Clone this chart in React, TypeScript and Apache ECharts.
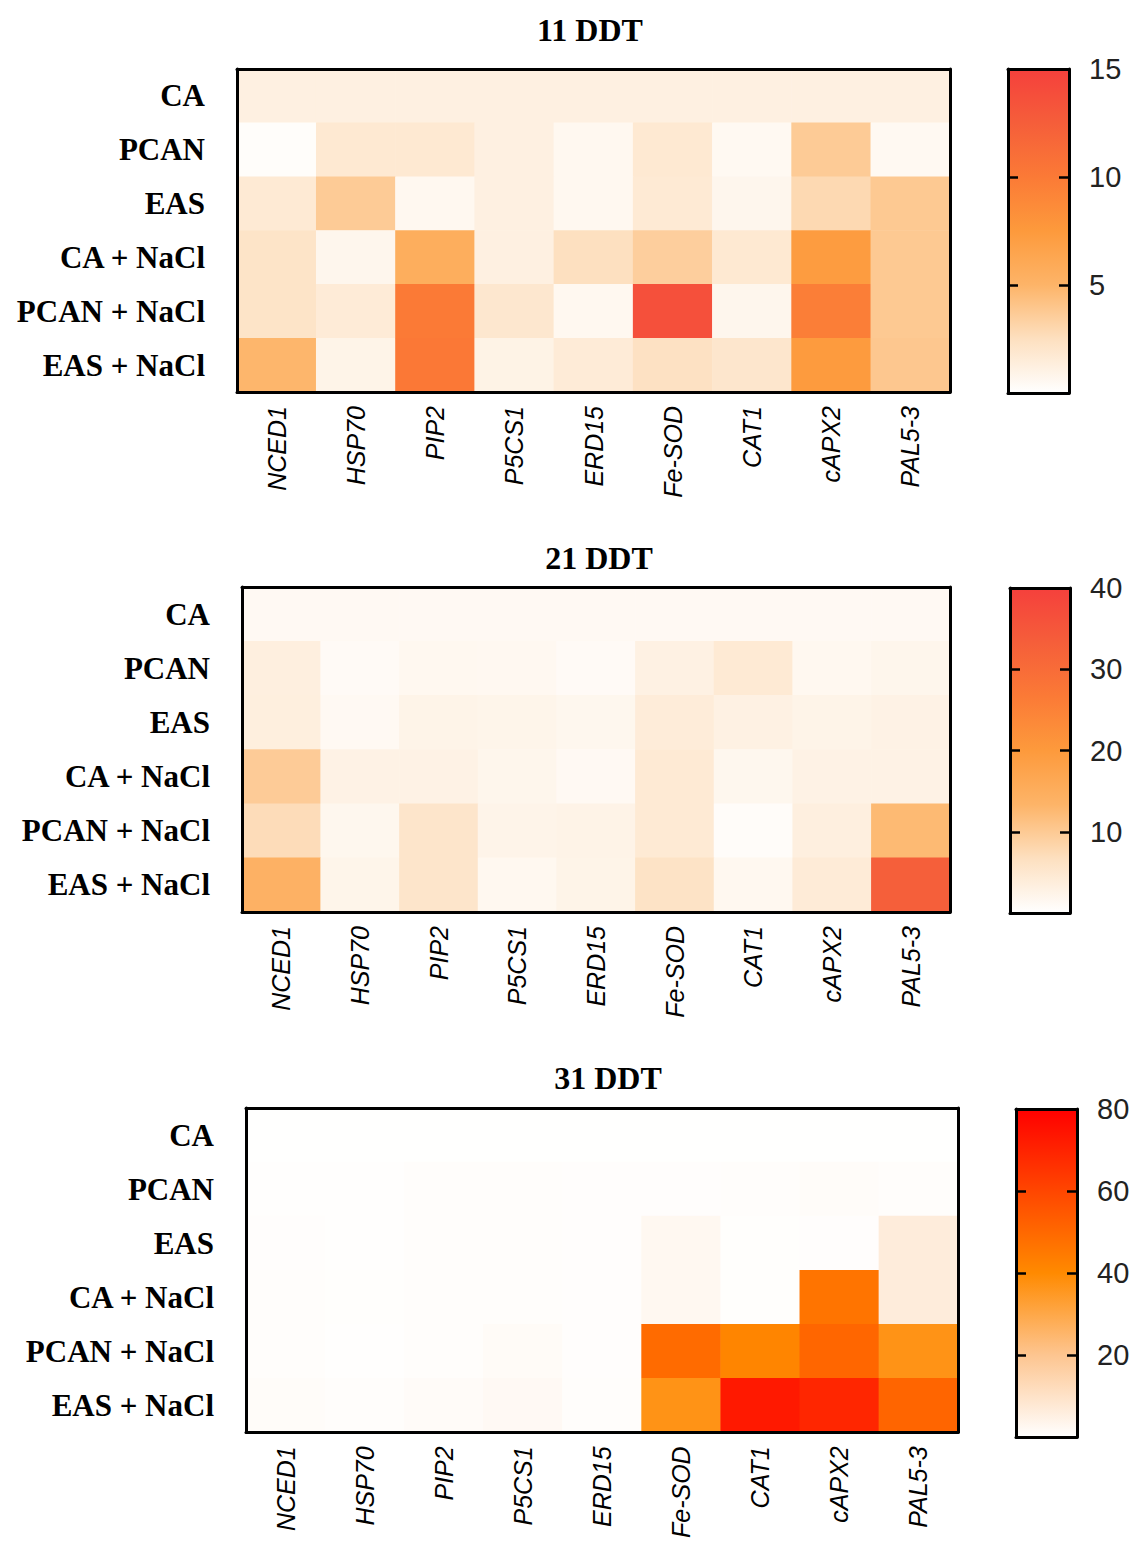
import React, { useEffect, useRef } from "react";
import * as echarts from "echarts";

const genes = ["NCED1", "HSP70", "PIP2", "P5CS1", "ERD15", "Fe-SOD", "CAT1", "cAPX2", "PAL5-3"];
const treatments = ["CA", "PCAN", "EAS", "CA + NaCl", "PCAN + NaCl", "EAS + NaCl"];
const titles = ["11 DDT", "21 DDT", "31 DDT"];

const values11 = [
  [1.2, 1.2, 1.2, 1.2, 1.2, 1.2, 1.2, 1.2, 1.2],
  [0.2, 1.8, 1.8, 1.2, 0.6, 1.8, 0.5, 3.7, 0.5],
  [1.7, 3.7, 0.6, 1.2, 0.6, 1.7, 0.7, 2.9, 3.8],
  [2.2, 0.7, 5.6, 1.2, 2.5, 3.5, 1.8, 7.3, 3.8],
  [2.2, 1.6, 10.0, 1.9, 0.6, 13.7, 0.7, 9.7, 3.8],
  [4.9, 0.9, 10.2, 1.0, 1.6, 2.4, 2.0, 7.4, 3.9],
];
const values21 = [
  [1.3, 1.3, 1.3, 1.3, 1.3, 1.3, 1.3, 1.3, 1.3],
  [3.4, 1.0, 1.6, 1.5, 1.0, 3.0, 4.5, 1.6, 2.0],
  [3.5, 1.3, 2.4, 2.2, 1.8, 4.0, 3.0, 2.4, 2.8],
  [9.8, 2.8, 2.8, 2.0, 1.3, 4.6, 1.8, 2.8, 2.8],
  [7.2, 1.8, 5.5, 2.3, 2.5, 4.6, 0.6, 3.4, 12.5],
  [14.0, 2.2, 5.5, 1.6, 2.4, 6.0, 1.6, 4.2, 33.0],
];
const values31 = [
  [0.1, 0.1, 0.1, 0.1, 0.1, 0.1, 0.1, 0.1, 0.1],
  [0.3, 0.3, 0.8, 0.8, 0.6, 0.6, 0.7, 1.0, 0.8],
  [0.6, 0.4, 0.8, 0.8, 0.6, 2.5, 0.5, 0.6, 6.5],
  [0.8, 0.5, 0.8, 0.8, 0.6, 2.5, 0.5, 46.5, 6.5],
  [0.8, 0.3, 0.8, 1.5, 0.6, 49.0, 41.5, 50.5, 37.0],
  [1.0, 0.8, 1.3, 2.0, 0.8, 37.0, 73.0, 69.0, 51.0],
];
const panelValues = [values11, values21, values31];
const scaleMax = [15, 40, 80];
const scaleInterval = [5, 10, 20];

const warmColors = ["#ffffff", "#fde0c0", "#fdb468", "#fd9a3c", "#fb7a36", "#f55e3a", "#f5403c"];
const hotColors = ["#ffffff", "#fdc590", "#ff8a00", "#ff4600", "#ff0000"];
const panelColors = [warmColors, warmColors, hotColors];

// layout (pixels)
const heatBoxes = [
  { left: 237, top: 69, width: 713, height: 323 },
  { left: 242, top: 587, width: 708, height: 325 },
  { left: 246, top: 1108, width: 712, height: 327 },
];
const barBoxes = [
  { left: 1008, top: 69, width: 61, height: 324 },
  { left: 1010, top: 588, width: 60, height: 325 },
  { left: 1016, top: 1109, width: 61, height: 328 },
];
const titlePos = [
  { x: 585, top: 9 },
  { x: 594, top: 537 },
  { x: 603, top: 1057 },
];

function buildOption() {
  const grid: any[] = [];
  const xAxis: any[] = [];
  const yAxis: any[] = [];
  const series: any[] = [];
  const visualMap: any[] = [];
  const title: any[] = [];
  const lineStyle = { color: "#000", width: 3 };

  for (let p = 0; p < 3; p++) {
    const hb = heatBoxes[p];
    const bb = barBoxes[p];
    const gH = grid.length;
    grid.push({ ...hb, containLabel: false });
    const gB = grid.length;
    grid.push({ ...bb, containLabel: false });

    title.push({
      text: titles[p],
      left: titlePos[p].x,
      top: titlePos[p].top,
      textAlign: "center",
      textStyle: { fontFamily: "Liberation Serif", fontWeight: "bold", fontSize: 32, color: "#000" },
    });

    // heatmap axes
    const xHB = xAxis.length;
    xAxis.push({
      type: "category",
      gridIndex: gH,
      data: genes,
      position: "bottom",
      z: 10,
      axisLine: { show: true, lineStyle },
      axisTick: { show: false },
      splitArea: { show: false },
      axisLabel: {
        rotate: 90,
        margin: 14,
        interval: 0,
        fontFamily: "Liberation Sans",
        fontStyle: "italic",
        fontSize: 25,
        color: "#000",
      },
    });
    xAxis.push({
      type: "category",
      gridIndex: gH,
      data: genes,
      position: "top",
      z: 10,
      axisLine: { show: true, onZero: false, lineStyle },
      axisTick: { show: false },
      axisLabel: { show: false },
    });
    const yHL = yAxis.length;
    yAxis.push({
      type: "category",
      gridIndex: gH,
      data: treatments,
      inverse: true,
      position: "left",
      z: 10,
      axisLine: { show: true, lineStyle },
      axisTick: { show: false },
      axisLabel: {
        margin: 32,
        interval: 0,
        fontFamily: "Liberation Serif",
        fontWeight: "bold",
        fontSize: 31,
        color: "#000",
      },
    });
    yAxis.push({
      type: "category",
      gridIndex: gH,
      data: treatments,
      inverse: true,
      position: "right",
      z: 10,
      axisLine: { show: true, onZero: false, lineStyle },
      axisTick: { show: false },
      axisLabel: { show: false },
    });

    const data: number[][] = [];
    panelValues[p].forEach((row, r) => row.forEach((v, c) => data.push([c, r, v])));
    const sIdx = series.length;
    series.push({
      type: "heatmap",
      xAxisIndex: xHB,
      yAxisIndex: yHL,
      data,
      itemStyle: { borderWidth: 0 },
      emphasis: { disabled: true },
    });
    visualMap.push({
      show: false,
      type: "continuous",
      seriesIndex: sIdx,
      min: 0,
      max: scaleMax[p],
      inRange: { color: panelColors[p] },
    });

    // colour bar axes
    const xBB = xAxis.length;
    xAxis.push({
      type: "category",
      gridIndex: gB,
      data: ["scale"],
      position: "bottom",
      z: 10,
      axisLine: { show: true, lineStyle },
      axisTick: { show: false },
      axisLabel: { show: false },
    });
    xAxis.push({
      type: "category",
      gridIndex: gB,
      data: ["scale"],
      position: "top",
      z: 10,
      axisLine: { show: true, onZero: false, lineStyle },
      axisTick: { show: false },
      axisLabel: { show: false },
    });
    const yBL = yAxis.length;
    yAxis.push({
      type: "value",
      gridIndex: gB,
      min: 0,
      max: scaleMax[p],
      interval: scaleInterval[p],
      position: "left",
      z: 10,
      splitLine: { show: false },
      axisLine: { show: true, onZero: false, lineStyle },
      axisTick: { show: true, inside: true, length: 10, lineStyle: { color: "#000", width: 2.5 } },
      axisLabel: { show: false },
    });
    yAxis.push({
      type: "value",
      gridIndex: gB,
      min: 0,
      max: scaleMax[p],
      interval: scaleInterval[p],
      position: "right",
      z: 10,
      splitLine: { show: false },
      axisLine: { show: true, onZero: false, lineStyle },
      axisTick: { show: true, inside: true, length: 10, lineStyle: { color: "#000", width: 2.5 } },
      axisLabel: {
        show: true,
        margin: 20,
        showMinLabel: false,
        showMaxLabel: true,
        fontFamily: "Liberation Sans",
        fontSize: 29,
        color: "#222",
        formatter: (v: number) => (v === 0 ? "" : String(v)),
      },
    });
    const cols = panelColors[p];
    const stops = cols
      .map((c, i) => ({ offset: 1 - i / (cols.length - 1), color: c }))
      .reverse();
    series.push({
      type: "bar",
      xAxisIndex: xBB,
      yAxisIndex: yBL,
      data: [scaleMax[p]],
      barWidth: "100%",
      silent: true,
      itemStyle: { color: new echarts.graphic.LinearGradient(0, 0, 0, 1, stops) },
    });
  }

  return {
    animation: false,
    backgroundColor: "#ffffff",
    title,
    grid,
    xAxis,
    yAxis,
    visualMap,
    series,
  };
}

export default function App() {
  const ref = useRef<HTMLDivElement>(null);
  useEffect(() => {
    if (!ref.current) return;
    const chart = echarts.init(ref.current, undefined, { renderer: "svg" });
    chart.setOption(buildOption() as any);
    return () => chart.dispose();
  }, []);
  return (
    <div
      ref={ref}
      style={{ position: "absolute", left: 0, top: 0, width: 1144, height: 1541, background: "#fff" }}
    />
  );
}
